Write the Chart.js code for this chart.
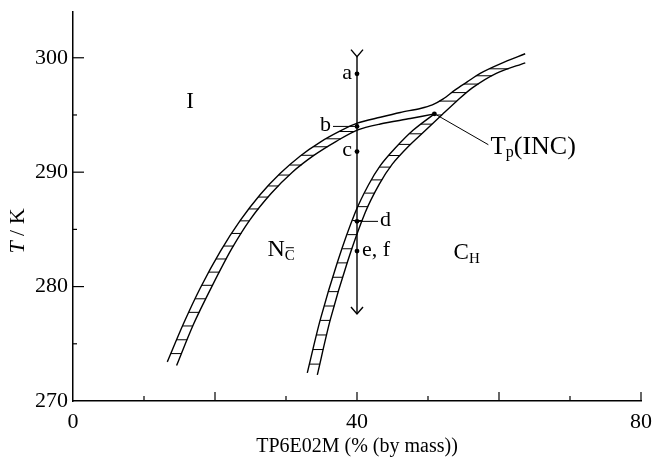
<!DOCTYPE html>
<html>
<head>
<meta charset="utf-8">
<script src="https://cdn.jsdelivr.net/npm/chart.js@4.4.0/dist/chart.umd.min.js"></script>
<style>
  html, body { margin: 0; padding: 0; background: #fff; }
</style>
</head>
<body>
<canvas id="grafico" width="654" height="460"></canvas>
<script>
// phase boundaries: T / K against TP6E02M mass %
const upperX = [13.28, 15.54, 17.93, 20.75, 23.56, 26.38, 29.20, 32.01, 34.83, 37.65, 40.04, 43.28, 46.10, 48.92, 50.61, 52.15, 53.83, 55.52, 57.35, 60.17, 63.69];
const upperT = [273.42, 276.73, 279.88, 283.08, 285.78, 288.05, 289.90, 291.42, 292.63, 293.60, 294.28, 294.80, 295.22, 295.57, 295.88, 296.40, 297.19, 297.89, 298.64, 299.47, 300.35];
const innerX = [14.59, 16.94, 19.55, 22.30, 24.97, 27.93, 30.89, 33.97, 37.08, 40.04, 43.28, 47.51, 50.9];
const innerT = [273.10, 276.67, 280.00, 283.25, 285.88, 288.16, 290.00, 291.49, 292.70, 293.68, 294.21, 294.69, 295.1];
const colLeftX = [33.0, 34.83, 37.23, 39.76, 41.59, 43.28, 45.39, 47.93, 50.9];
const colLeftT = [272.46, 277.11, 282.11, 286.49, 288.86, 290.57, 292.11, 293.68, 295.1];
const colRightX = [34.41, 36.24, 38.63, 41.17, 43.14, 44.97, 47.23, 49.62, 52.01, 53.99, 56.24, 59.62, 63.70];
const colRightT = [272.28, 277.11, 282.11, 286.49, 288.95, 290.70, 292.24, 293.64, 295.04, 296.18, 297.37, 298.64, 299.56];

// cooling path at 40 % and the measured points on it
const pathX = 40;
const pathT = [300.1, 277.6];
const pointNames = ['a', 'b', 'c', 'd', 'e, f'];
const pointT = [298.6, 294.0, 291.8, 285.7, 283.1];
const tpX = 50.9;
const tpT = 295.1;

const xTickLabels = [0, 40, 80];
const yTickLabels = [270, 280, 290, 300];

const serif = "'Liberation Serif', 'Times New Roman', serif";
Chart.defaults.font.family = serif;
Chart.defaults.color = '#000';

const pts = (xs, ts) => xs.map((v, i) => ({ x: v, y: ts[i] }));

const curve = (xs, ts) => ({
    data: pts(xs, ts),
    showLine: true,
    borderColor: '#000',
    borderWidth: 1.4,
    pointRadius: 0,
    tension: 0.3
});

function fnt(size, italic) {
    return (italic ? 'italic ' : '') + size + 'px ' + serif;
}

function drawRich(ctx, x, y, parts, align) {
    let w = 0;
    parts.forEach(p => {
        ctx.font = fnt(p.size, p.italic);
        p.w = ctx.measureText(p.t).width;
        w += p.w;
    });
    let cx = align === 'right' ? x - w : align === 'center' ? x - w / 2 : x;
    parts.forEach(p => {
        ctx.font = fnt(p.size, p.italic);
        ctx.fillText(p.t, cx, y + (p.dy || 0));
        if (p.bar) {
            ctx.beginPath();
            ctx.moveTo(cx + 1, y + p.dy - p.size * 0.55);
            ctx.lineTo(cx + p.w - 1, y + p.dy - p.size * 0.55);
            ctx.lineWidth = 1;
            ctx.stroke();
        }
        cx += p.w;
    });
}

function xAtY(poly, y) {
    for (let i = 0; i < poly.length - 1; i++) {
        const [x1, y1] = poly[i], [x2, y2] = poly[i + 1];
        if (y1 !== y2 && (y - y1) * (y - y2) <= 0) {
            return x1 + (x2 - x1) * (y - y1) / (y2 - y1);
        }
    }
    return null;
}

// short horizontal rungs between two boundary curves
const hatchPlugin = {
    id: 'hatch',
    afterDatasetsDraw(chart) {
        const { ctx, scales: { x, y } } = chart;
        const px = (xs, ts) => xs.map((v, i) => [x.getPixelForValue(v), y.getPixelForValue(ts[i])]);
        const bands = [
            [px(upperX, upperT), px(innerX, innerT), 0, 46],
            [px(colLeftX, colLeftT), px(colRightX, colRightT), 0, 80],
            [px(upperX, upperT), px(colRightX, colRightT), 50.5, 80]
        ];
        const step = 15;
        ctx.save();
        ctx.strokeStyle = '#000';
        ctx.lineWidth = 1;
        bands.forEach(([P, Q, lo, hi]) => {
            const xlo = x.getPixelForValue(lo), xhi = x.getPixelForValue(hi);
            let carry = step * 0.6;
            for (let i = 0; i < P.length - 1; i++) {
                const [ax, ay] = P[i], [bx, by] = P[i + 1];
                const len = Math.hypot(bx - ax, by - ay);
                let d = carry;
                while (d < len) {
                    const hx = ax + (bx - ax) * d / len;
                    const hy = ay + (by - ay) * d / len;
                    const qx = xAtY(Q, hy);
                    if (qx !== null && hx >= xlo && hx <= xhi && qx - hx > 1 && qx - hx < 22) {
                        ctx.beginPath();
                        ctx.moveTo(hx, hy);
                        ctx.lineTo(qx, hy);
                        ctx.stroke();
                    }
                    d += step;
                }
                carry = d - len;
            }
        });
        ctx.restore();
    }
};

const notesPlugin = {
    id: 'notes',
    afterDraw(chart) {
        const { ctx, scales: { x, y }, chartArea } = chart;
        ctx.save();
        ctx.fillStyle = '#000';
        ctx.strokeStyle = '#000';
        ctx.textBaseline = 'middle';

        // inward tick marks
        ctx.lineWidth = 1.2;
        for (let v = 10; v <= 80; v += 10) {
            const p = x.getPixelForValue(v);
            const len = v % 20 === 0 ? 9 : 5;
            ctx.beginPath();
            ctx.moveTo(p, chartArea.bottom);
            ctx.lineTo(p, chartArea.bottom - len);
            ctx.stroke();
        }
        for (let v = 275; v <= 300; v += 5) {
            const p = y.getPixelForValue(v);
            const len = v % 10 === 0 ? 11 : 4;
            ctx.beginPath();
            ctx.moveTo(chartArea.left, p);
            ctx.lineTo(chartArea.left + len, p);
            ctx.stroke();
        }

        // arrow ends on the path
        const ax = x.getPixelForValue(pathX);
        ctx.lineWidth = 1.4;
        pathT.forEach(t => {
            const ay = y.getPixelForValue(t);
            ctx.beginPath();
            ctx.moveTo(ax - 6, ay - 7);
            ctx.lineTo(ax, ay);
            ctx.lineTo(ax + 6, ay - 7);
            ctx.stroke();
        });

        // point letters
        const offs = [[-5, 'right'], [-26, 'right'], [-5, 'right'], [23, 'left'], [5, 'left']];
        ctx.font = fnt(22);
        pointNames.forEach((n, i) => {
            const py = y.getPixelForValue(pointT[i]);
            ctx.textAlign = offs[i][1];
            ctx.fillText(n, ax + offs[i][0], py - 1);
        });
        ctx.textAlign = 'left';
        ctx.lineWidth = 1;
        const by = y.getPixelForValue(pointT[1]);
        ctx.beginPath(); ctx.moveTo(ax - 24, by); ctx.lineTo(ax, by); ctx.stroke();
        const dy = y.getPixelForValue(pointT[3]);
        ctx.beginPath(); ctx.moveTo(ax, dy); ctx.lineTo(ax + 21, dy); ctx.stroke();

        // phase labels
        drawRich(ctx, x.getPixelForValue(16.5), y.getPixelForValue(296.1), [{ t: 'I', size: 23 }], 'center');
        drawRich(ctx, x.getPixelForValue(27.4), y.getPixelForValue(283.2),
            [{ t: 'N', size: 24 }, { t: 'C', size: 15, dy: 6, bar: true }], 'left');
        drawRich(ctx, x.getPixelForValue(53.6), y.getPixelForValue(282.9),
            [{ t: 'C', size: 23 }, { t: 'H', size: 15, dy: 6 }], 'left');

        // triple point label with leader
        const tx = x.getPixelForValue(tpX), ty = y.getPixelForValue(tpT);
        ctx.beginPath();
        ctx.moveTo(tx + 2, ty + 1);
        ctx.lineTo(x.getPixelForValue(58.5), y.getPixelForValue(292.4));
        ctx.stroke();
        drawRich(ctx, x.getPixelForValue(58.8), y.getPixelForValue(292.2),
            [{ t: 'T', size: 25 }, { t: 'p', size: 16, dy: 6 }, { t: '(INC)', size: 26 }], 'left');

        // y axis title
        ctx.translate(18, 231);
        ctx.rotate(-Math.PI / 2);
        drawRich(ctx, 0, 0, [{ t: 'T', size: 22, italic: true }, { t: ' / K', size: 22 }], 'center');
        ctx.restore();
    }
};

const ctx = document.getElementById('grafico');

new Chart(ctx, {
    type: 'scatter',
    data: {
        datasets: [
            curve(upperX, upperT),
            curve(innerX, innerT),
            curve(colLeftX, colLeftT),
            curve(colRightX, colRightT),
            {
                data: pathT.map(t => ({ x: pathX, y: t })),
                showLine: true,
                borderColor: '#000',
                borderWidth: 1.4,
                pointRadius: 0
            },
            {
                data: pointT.map(t => ({ x: pathX, y: t })).concat([{ x: tpX, y: tpT }]),
                pointRadius: 2.4,
                pointBackgroundColor: '#000',
                pointBorderWidth: 0
            }
        ]
    },
    options: {
        responsive: false,
        animation: false,
        layout: { padding: { top: 12, right: 13, left: 0, bottom: 0 } },
        plugins: {
            legend: { display: false },
            tooltip: { enabled: false }
        },
        scales: {
            x: {
                type: 'linear',
                min: 0,
                max: 80,
                grid: { display: false, drawTicks: false },
                border: { display: true, color: '#000', width: 1.5 },
                ticks: {
                    stepSize: 10,
                    autoSkip: false,
                    maxRotation: 0,
                    padding: 8,
                    font: { size: 22 },
                    callback: (value) => xTickLabels.includes(value) ? String(value) : ''
                },
                title: {
                    display: true,
                    text: 'TP6E02M (% (by mass))',
                    font: { size: 20 },
                    padding: { top: 0, bottom: 1 }
                },
                afterFit: (s) => { s.height = 59; s.paddingLeft = 0; s.paddingRight = 0; }
            },
            y: {
                type: 'linear',
                min: 270,
                max: 304,
                grid: { display: false, drawTicks: false },
                border: { display: true, color: '#000', width: 1.5 },
                ticks: {
                    stepSize: 5,
                    autoSkip: false,
                    padding: 5,
                    font: { size: 22 },
                    callback: (value) => yTickLabels.includes(value) ? String(value) : ''
                },
                afterFit: (s) => { s.width = 73; s.paddingTop = 0; s.paddingBottom = 0; }
            }
        }
    },
    plugins: [hatchPlugin, notesPlugin]
});
</script>
</body>
</html>
